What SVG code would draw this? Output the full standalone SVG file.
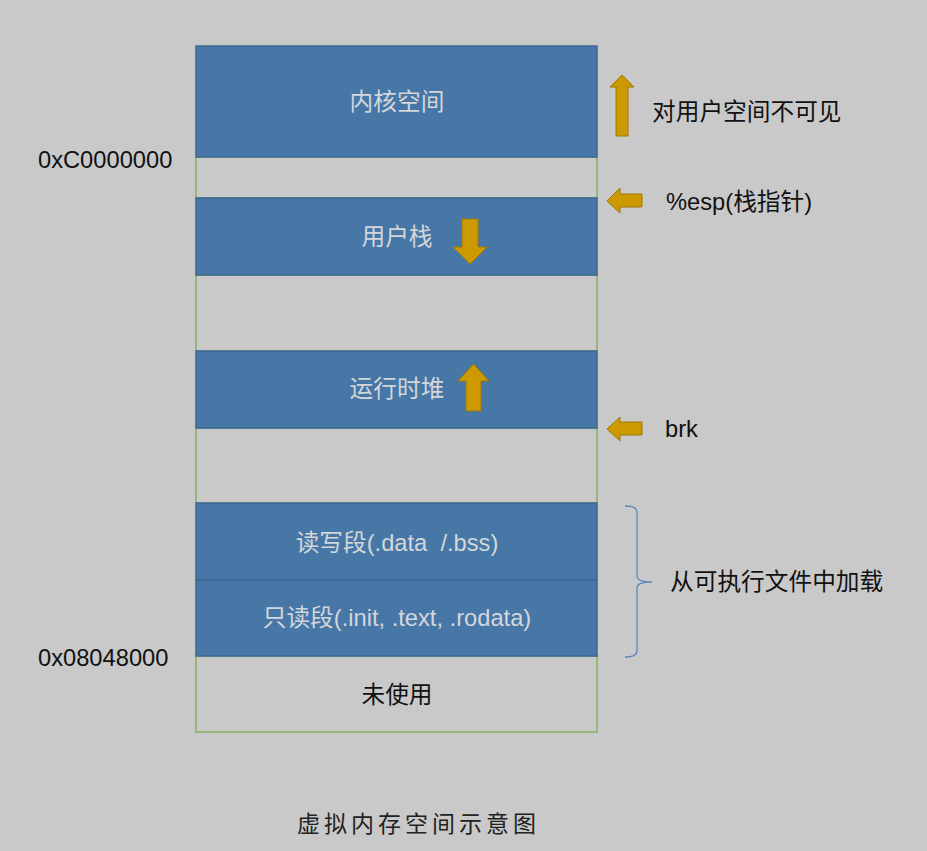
<svg xmlns="http://www.w3.org/2000/svg" width="927" height="851" viewBox="0 0 927 851">
<defs>
<style>
.bg{fill:#c9c9c9}
.blue{fill:#4677a7;stroke:#3d6894;stroke-width:1.5}
.gap{fill:#c9c9c9;stroke:#70ad47;stroke-width:1.2}
.lbl{font-family:"Liberation Sans","Noto Sans CJK SC",sans-serif;font-size:23.7px;text-anchor:middle;dominant-baseline:central;white-space:pre}
.inb{fill:#d4d6d9}
.dark{fill:#111}
.side{font-family:"Liberation Sans","Noto Sans CJK SC",sans-serif;font-size:23.7px;dominant-baseline:central;fill:#111}
.arrow{fill:#cc9900;stroke:#a07800;stroke-width:1}
.brace{fill:none;stroke:#5b8ac0;stroke-width:1.3}
.title{font-family:"Noto Sans CJK SC",serif;font-size:23px;letter-spacing:4px;fill:#222;dominant-baseline:central}
</style>
</defs>
<rect class="bg" x="0" y="0" width="927" height="851"/>
<g id="gap1"><rect class="gap" x="196" y="157" width="401" height="41"/></g>
<g id="gap2"><rect class="gap" x="196" y="275" width="401" height="76"/></g>
<g id="gap3"><rect class="gap" x="196" y="428" width="401" height="75"/></g>
<g id="unused"><rect class="gap" x="196" y="656" width="401" height="76"/><text class="lbl dark" x="397" y="695">未使用</text></g>
<g id="kernel"><rect class="blue" x="196" y="46" width="401" height="111"/><text class="lbl inb" x="397" y="102">内核空间</text></g>
<g id="stack"><rect class="blue" x="196" y="198" width="401" height="77"/><text class="lbl inb" x="397" y="237">用户栈</text></g>
<g id="heap"><rect class="blue" x="196" y="351" width="401" height="77"/><text class="lbl inb" x="397" y="389">运行时堆</text></g>
<g id="rw"><rect class="blue" x="196" y="503" width="401" height="77"/><text class="lbl inb" x="397" y="543" xml:space="preserve">读写段(.data  /.bss)</text></g>
<g id="ro"><rect class="blue" x="196" y="580" width="401" height="76"/><text class="lbl inb" x="397" y="618">只读段(.init, .text, .rodata)</text></g>
<g id="connectors">
<polygon class="arrow" points="462,219 478,219 478,247 487,247 470,264 453,247 462,247"/>
<polygon class="arrow" points="466,411 481,411 481,381 489,381 473.5,364 458,381 466,381"/>
<polygon class="arrow" points="616,136 628,136 628,87 634,87 622,75 610,87 616,87"/>
<polygon class="arrow" points="642,194 620,194 620,188 607,201 620,213 620,207 642,207"/>
<polygon class="arrow" points="642,422 620,422 620,417 607,429 620,441 620,435 642,435"/>
<path class="brace" d="M625,506 Q637,506 637,512 L637,576 Q637,582 652,582 Q637,582 637,588 L637,651 Q637,657 625,657"/>
</g>
<g id="labels">
<text class="side" x="652" y="112">对用户空间不可见</text>
<text class="side" x="666" y="202">%esp(栈指针)</text>
<text class="side" x="665" y="429">brk</text>
<text class="side" x="670" y="582">从可执行文件中加载</text>
<text class="side" x="38" y="160">0xC0000000</text>
<text class="side" x="38" y="658">0x08048000</text>
<text class="title" x="297" y="822">虚拟内存空间示意图</text>
</g>
</svg>
